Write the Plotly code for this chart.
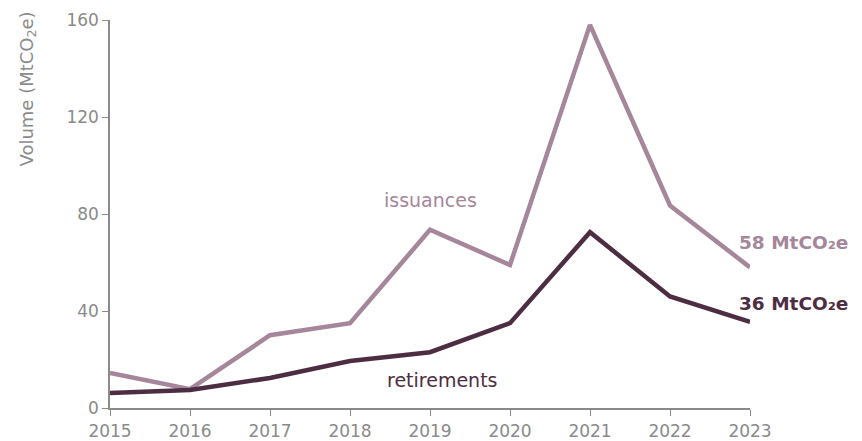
import plotly.graph_objects as go

years = [2015, 2016, 2017, 2018, 2019, 2020, 2021, 2022, 2023]
issuances = [14.5, 7.8, 30, 35, 73.5, 59, 158, 83.5, 58]
retirements = [6.2, 7.4, 12.4, 19.4, 23, 35, 72.5, 46, 35.5]
y_ticks = [0, 40, 80, 120, 160]

c_iss = "#a5869a"
c_ret = "#4d2d42"
grey = "#8a8a8a"
font = "DejaVu Sans"

fig = go.Figure()
fig.add_trace(go.Scatter(x=years, y=issuances, mode="lines",
                         line=dict(color=c_iss, width=4.5), cliponaxis=False))
fig.add_trace(go.Scatter(x=years, y=retirements, mode="lines",
                         line=dict(color=c_ret, width=4.5), cliponaxis=False))

fig.add_annotation(x=2019, y=85.8, xref="x", yref="y", text="issuances",
                   showarrow=False, font=dict(family=font, size=19, color=c_iss))
fig.add_annotation(x=2019.15, y=11.5, xref="x", yref="y", text="retirements",
                   showarrow=False, font=dict(family=font, size=19, color=c_ret))
fig.add_annotation(x=2023, y=issuances[-1], xref="x", yref="y",
                   text="<b>58 MtCO₂e</b>", showarrow=False, xanchor="left",
                   xshift=-13, yshift=25, font=dict(family=font, size=18.5, color=c_iss))
fig.add_annotation(x=2023, y=retirements[-1], xref="x", yref="y",
                   text="<b>36 MtCO₂e</b>", showarrow=False, xanchor="left",
                   xshift=-13, yshift=18, font=dict(family=font, size=18.5, color=c_ret))
# y-axis title, top-aligned as in the reference
fig.add_annotation(x=0, y=1, xref="paper", yref="paper", text="Volume (MtCO<sub>2</sub>e)",
                   textangle=-90, showarrow=False, xanchor="center", yanchor="top",
                   xshift=-83, yshift=10, font=dict(family=font, size=18, color=grey))

fig.update_layout(
    width=862, height=441,
    margin=dict(l=102, r=120, t=12, b=41, autoexpand=False),
    plot_bgcolor="white", paper_bgcolor="white",
    showlegend=False,
    font=dict(family=font, color=grey, size=16),
)
fig.update_xaxes(range=[2015, 2023], tickvals=years, ticktext=[str(y) for y in years],
                 showgrid=False, zeroline=False, showline=True, linecolor=grey,
                 linewidth=1.5, ticks="outside", ticklen=6, tickcolor=grey,
                 ticklabelstandoff=1,
                 tickfont=dict(size=17, color=grey), automargin=False)
fig.update_yaxes(range=[0, 160], tickvals=y_ticks, showgrid=False, zeroline=False,
                 showline=True, linecolor=grey, linewidth=1.5, ticks="outside",
                 ticklen=6, tickcolor=grey, tickfont=dict(size=17, color=grey),
                 automargin=False)

fig.write_html("out.html")
